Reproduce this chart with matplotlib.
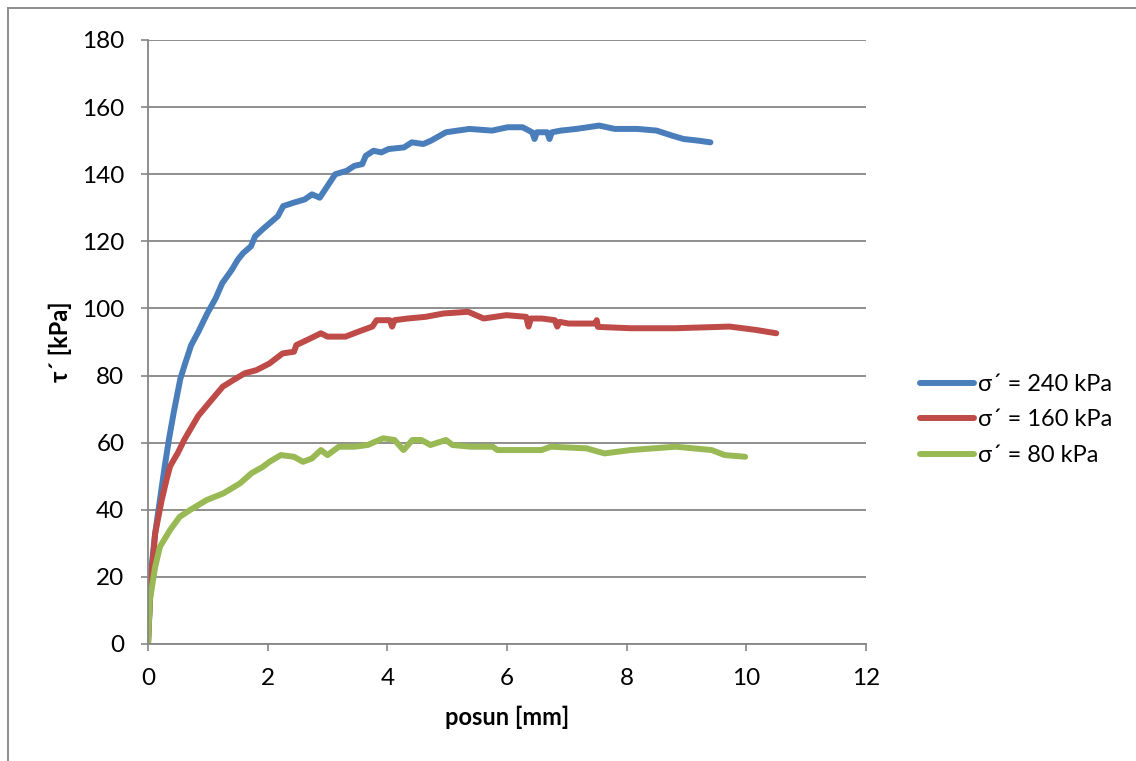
"""
    Smykova zkouska: tau' v zavislosti na posunu pro tri normalova napeti.
"""

import matplotlib
matplotlib.use("Agg")
import matplotlib.pyplot as plt
from matplotlib.lines import Line2D

plt.rcParams['font.family'] = ['Lato', 'DejaVu Sans']

# sigma' = 240 kPa
posun_240 = [0.0, 0.03, 0.06, 0.12, 0.20, 0.28, 0.35, 0.43, 0.54, 0.61,
             0.72, 0.84, 0.99, 1.13, 1.24, 1.40, 1.50, 1.59, 1.72, 1.79,
             1.91, 2.04, 2.17, 2.26, 2.43, 2.62, 2.74, 2.87, 3.00, 3.13,
             3.32, 3.45, 3.58, 3.64, 3.77, 3.90, 4.02, 4.28, 4.41, 4.60,
             4.73, 4.98, 5.37, 5.75, 6.01, 6.26, 6.42, 6.46, 6.50, 6.67,
             6.71, 6.75, 6.90, 7.16, 7.54, 7.80, 8.18, 8.50, 8.76, 8.95,
             9.20, 9.40]
tau_240 = [0, 12, 23, 33, 43, 53, 61, 69, 79, 83,
           89, 93, 98.5, 103, 107.5, 111.5, 114.5, 116.5, 118.5, 121.5,
           123.5, 125.5, 127.5, 130.5, 131.5, 132.5, 134, 133, 136.5, 140,
           141, 142.5, 143, 145.5, 147, 146.5, 147.5, 148, 149.5, 149,
           150, 152.5, 153.5, 153, 154, 154, 152.5, 150.5, 152.5, 152.5,
           150.5, 152.5, 153, 153.5, 154.5, 153.5, 153.5, 153, 151.5, 150.5,
           150, 149.5]

# sigma' = 160 kPa
posun_160 = [0.0, 0.02, 0.045, 0.12, 0.23, 0.31, 0.37, 0.50, 0.61, 0.84,
             1.06, 1.25, 1.43, 1.62, 1.81, 2.03, 2.25, 2.44, 2.48, 2.66,
             2.89, 3.00, 3.30, 3.52, 3.75, 3.82, 4.04, 4.08, 4.12, 4.34,
             4.64, 4.94, 5.35, 5.61, 5.99, 6.32, 6.36, 6.40, 6.58, 6.80,
             6.84, 6.88, 7.03, 7.48, 7.50, 7.52, 8.07, 8.82, 9.72, 10.16,
             10.50]
tau_160 = [0, 8, 18, 33, 43, 49, 53, 57, 61, 68,
           72.7, 76.7, 78.7, 80.7, 81.6, 83.6, 86.6, 87.1, 89.1, 90.6,
           92.6, 91.6, 91.6, 93.1, 94.6, 96.5, 96.5, 94.6, 96.5, 97.0,
           97.5, 98.5, 99.0, 97.0, 98.0, 97.5, 94.6, 97.0, 97.0, 96.5,
           94.6, 96.0, 95.5, 95.5, 96.5, 94.5, 94.1, 94.1, 94.6, 93.6,
           92.6]

# sigma' = 80 kPa
posun_80 = [0.0, 0.03, 0.12, 0.20, 0.37, 0.53, 0.70, 0.98, 1.26, 1.54,
            1.73, 1.92, 2.03, 2.22, 2.44, 2.59, 2.74, 2.89, 3.00, 3.19,
            3.45, 3.67, 3.93, 4.12, 4.27, 4.42, 4.57, 4.72, 4.98, 5.09,
            5.39, 5.76, 5.84, 6.58, 6.73, 7.33, 7.63, 8.07, 8.82, 9.42,
            9.64, 9.98]
tau_80 = [0, 13, 23, 29, 34, 37.9, 39.9, 42.9, 44.9, 47.9,
          50.9, 52.8, 54.3, 56.3, 55.8, 54.3, 55.3, 57.8, 56.3, 58.8,
          58.8, 59.3, 61.3, 60.8, 57.8, 60.8, 60.8, 59.3, 60.8, 59.3,
          58.8, 58.8, 57.8, 57.8, 58.8, 58.3, 56.8, 57.8, 58.8, 57.8,
          56.3, 55.8]

serie = [
    (posun_240, tau_240, '#4A7EBB', 'σ´ = 240 kPa'),
    (posun_160, tau_160, '#BE4B48', 'σ´ = 160 kPa'),
    (posun_80, tau_80, '#98B954', 'σ´ = 80 kPa'),
]

osa_x_ticks = [0, 2, 4, 6, 8, 10, 12]
osa_y_ticks = [0, 20, 40, 60, 80, 100, 120, 140, 160, 180]


def main():
    fig = plt.figure(figsize=(11.36, 7.61), dpi=100, facecolor='w')
    ax = fig.add_axes([148 / 1136, 1 - 644 / 761,
                       (866 - 148) / 1136, (644 - 40) / 761])

    for x, y, barva, popis in serie:
        ax.plot(x, y, color=barva, lw=4.3, label=popis,
                solid_capstyle='round', solid_joinstyle='round')

    ax.set_xlim(0, 12)
    ax.set_ylim(0, 180)
    ax.set_xticks(osa_x_ticks)
    ax.set_yticks(osa_y_ticks)
    ax.yaxis.grid(True, color='#868686', lw=1.3)
    ax.set_axisbelow(True)
    for s in ['top', 'right']:
        ax.spines[s].set_visible(False)
    for s in ['left', 'bottom']:
        ax.spines[s].set_color('#868686')
        ax.spines[s].set_linewidth(1.3)
    ax.tick_params(axis='both', direction='out', length=5, width=1.2,
                   color='#868686', labelsize=17.5, pad=12)

    ax.set_xlabel('posun [mm]', fontsize=17, fontweight='bold', labelpad=12)
    ax.set_ylabel('τ´ [kPa]', fontsize=17, fontweight='bold', labelpad=7)

    ax.legend(loc='center left', bbox_to_anchor=(920 / 1136, 1 - 420 / 761),
              bbox_transform=fig.transFigure, frameon=False, fontsize=17,
              handlelength=2.3, handletextpad=0.15, labelspacing=0.62,
              borderpad=0, borderaxespad=0)

    # ramecek grafu (jen horni a leva hrana jsou v obrazku)
    fig.add_artist(Line2D([8 / 1136, 1], [1 - 8 / 761, 1 - 8 / 761],
                          color='#868686', lw=1.3))
    fig.add_artist(Line2D([8 / 1136, 8 / 1136], [0, 1 - 8 / 761],
                          color='#868686', lw=1.3))

    fig.savefig('out.png', dpi=100, facecolor='w')


if __name__ == "__main__":
    main()
